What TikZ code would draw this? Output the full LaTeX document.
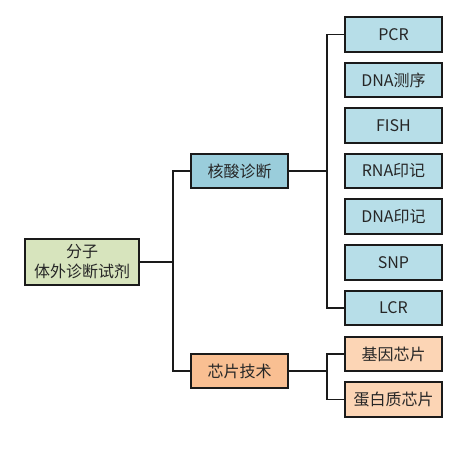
\documentclass[tikz,border=0pt]{standalone}
\usepackage{fontspec}
\setmainfont{Noto Sans CJK SC}
\definecolor{rootc}{HTML}{D7E4BD}
\definecolor{blued}{HTML}{9ACDDB}
\definecolor{bluel}{HTML}{B7DEE8}
\definecolor{orad}{HTML}{F9BF92}
\definecolor{oral}{HTML}{FCD5B5}
\definecolor{linec}{HTML}{1A1A1A}
\tikzset{
  box/.style={draw=linec, line width=1.9pt, inner sep=0pt, align=center,
    font=\fontsize{16pt}{20pt}\selectfont, text=black!85},
  rootbox/.style={box, fill=rootc, minimum width=114pt, minimum height=46pt},
  midbox/.style={box, minimum width=97pt, minimum height=34pt},
  leafbox/.style={box, minimum width=97pt, minimum height=34.5pt},
  conn/.style={draw=linec, line width=1.8pt}
}
\begin{document}
\begin{tikzpicture}[x=1pt,y=-1pt]
\useasboundingbox (0,0) rectangle (470,460);
\node[rootbox] (root) at (82,262) {分子\\体外诊断试剂};
\node[midbox, fill=blued] (hs) at (239.5,171) {核酸诊断};
\node[midbox, fill=orad] (chip) at (239.5,371) {芯片技术};
\node[leafbox, fill=bluel] (pcr) at (393.5,34.5) {PCR};
\node[leafbox, fill=bluel] (dnas) at (393.5,80) {DNA测序};
\node[leafbox, fill=bluel] (fish) at (393.5,125.5) {FISH};
\node[leafbox, fill=bluel] (rna) at (393.5,171) {RNA印记};
\node[leafbox, fill=bluel] (dnay) at (393.5,216.5) {DNA印记};
\node[leafbox, fill=bluel] (snp) at (393.5,262.5) {SNP};
\node[leafbox, fill=bluel] (lcr) at (393.5,308) {LCR};
\node[leafbox, fill=oral] (gene) at (393.5,354) {基因芯片};
\node[leafbox, fill=oral] (prot) at (393.5,399.5) {蛋白质芯片};
\coordinate (j1) at (173,262);
\coordinate (j2) at (327,171);
\coordinate (j3) at (327,371);
\draw[conn] (root.east) -- (j1);
\draw[conn] (hs.west) -| (j1);
\draw[conn] (chip.west) -| (j1);
\draw[conn] (hs.east) -- (j2);
\draw[conn] (pcr.west) -| (j2);
\draw[conn] (lcr.west) -| (j2);
\draw[conn] (chip.east) -- (j3);
\draw[conn] (gene.west) -| (j3);
\draw[conn] (prot.west) -| (j3);
\end{tikzpicture}
\end{document}
